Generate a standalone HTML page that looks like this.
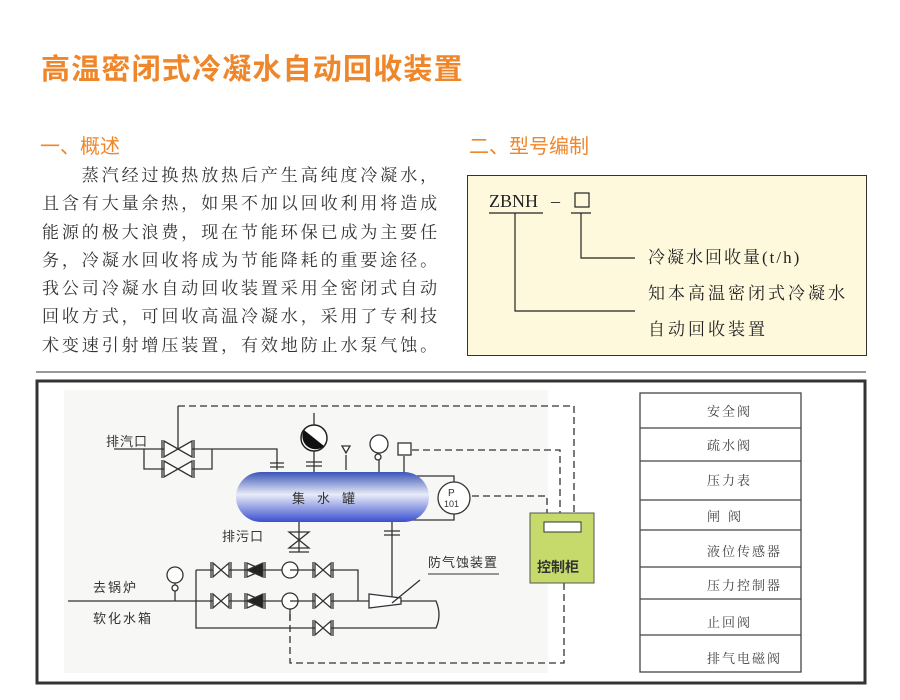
<!DOCTYPE html>
<html><head><meta charset="utf-8"><style>
body{margin:0;width:900px;height:700px;background:#fff;position:relative;overflow:hidden;font-family:"Liberation Serif","Noto Serif CJK SC","Noto Sans CJK SC",serif;}
.a{position:absolute;white-space:nowrap;}
.or{color:#f0862a;font-family:"Liberation Sans","Noto Sans CJK SC",sans-serif;font-weight:bold;}
.body{left:42px;top:160px;font-size:17px;line-height:28.3px;letter-spacing:2.9px;color:#333;font-family:"Noto Serif CJK SC",serif;}
</style></head><body>
<div class="a or" style="left:41px;top:46px;font-size:29px;letter-spacing:1.2px;">高温密闭式冷凝水自动回收装置</div>
<div class="a or" style="left:40px;top:130px;font-size:20px;font-weight:normal;">一、概述</div>
<div class="a or" style="left:469px;top:130px;font-size:20px;font-weight:normal;">二、型号编制</div>
<div class="a body">　　蒸汽经过换热放热后产生高纯度冷凝水，<br>且含有大量余热，如果不加以回收利用将造成<br>能源的极大浪费，现在节能环保已成为主要任<br>务，冷凝水回收将成为节能降耗的重要途径。<br>我公司冷凝水自动回收装置采用全密闭式自动<br>回收方式，可回收高温冷凝水，采用了专利技<br>术变速引射增压装置，有效地防止水泵气蚀。</div>
<div class="a" style="left:467px;top:175px;width:398px;height:179px;border:1px solid #333;background:#fef9dc;"></div>
<svg class="a" style="left:0;top:0" width="900" height="700">
<g font-family="Liberation Serif,Noto Serif CJK SC,serif" fill="#222">
<text x="489" y="207" font-size="18">ZBNH</text>
<text x="551" y="207" font-size="18">–</text>
<rect x="575" y="193" width="14" height="14" fill="none" stroke="#222" stroke-width="1.2"/>
<path d="M489 213H543M571 213H591M581 213V258H635M515 213V311H635" stroke="#222" stroke-width="1.2" fill="none"/>
<text x="648" y="263" font-size="17" letter-spacing="2">冷凝水回收量(t/h)</text>
<text x="648" y="299" font-size="17" letter-spacing="3">知本高温密闭式冷凝水</text>
<text x="648" y="335" font-size="17" letter-spacing="3">自动回收装置</text>
</g>
<line x1="36" y1="372" x2="866" y2="372" stroke="#333" stroke-width="1"/>
<rect x="37" y="381" width="828" height="302" fill="#fff" stroke="#333" stroke-width="3"/>
<rect x="64" y="390" width="484" height="283" fill="#f7f7f5"/>
<defs><linearGradient id="tk" x1="0" y1="0" x2="0" y2="1"><stop offset="0" stop-color="#3a55b8"/><stop offset="0.45" stop-color="#e8ecf8"/><stop offset="1" stop-color="#3a4fd0"/></linearGradient></defs>
<g stroke="#333" stroke-width="1.3" fill="none">
<g stroke-dasharray="7,4">
<path d="M178 406H574V513"/>
<path d="M412 450H560V513"/>
<path d="M472 496H547V513"/>
<path d="M564 583V663H290V603"/>
</g>
<path d="M178 406V449M114 449H277V470M144 449V469H212V449"/>
<path d="M164 441L192 457V441L164 457Z M164 461L192 477V461L164 477Z" fill="#fff"/>
<path d="M162 440V458M194 440V458M162 460V478M194 460V478"/>
<path d="M270 463H284M270 467H284"/>
<path d="M314 413V472M306 462H322M306 466H322"/>
<path d="M346 470V455M379 456V472M404 456V472"/>
<rect x="398" y="443" width="13" height="12" fill="#fff"/>
<circle cx="379" cy="444" r="9" fill="#fff"/>
<circle cx="378" cy="457" r="3" fill="#fff"/>
<path d="M346 453L342 446H350Z" fill="#fff"/>
<path d="M410 476H454V520H410"/>
<circle cx="454" cy="498" r="16" fill="#fff"/>
<path d="M299 522V552M289 532L309 548H289L309 532Z M289 552H309"/>
<path d="M392 522V598M384 531H400M384 535H400"/>
<path d="M68 601H369M196 570V628H436Q442 615 436 601H401M196 570H358V601"/>
<path d="M175 583V601"/>
<circle cx="175" cy="575" r="8" fill="#fff"/>
<circle cx="175" cy="588" r="3" fill="#fff"/>
<path d="M369 594L401 598V604L369 608Z" fill="#fff"/>
<path d="M392 603L420 580"/>
<path d="M428 574L499 574" stroke-width="1"/>
</g>
<g stroke="#333" stroke-width="1.3" fill="#fff">
<g id="row">
<path d="M213 563L229 577V563L213 577Z"/><path d="M211 562V578M231 562V578"/>
<path d="M247 563L263 570L247 577Z"/><path d="M263 563V577L247 570Z" fill="#222"/><path d="M245 562V578M265 562V578"/>
<circle cx="290" cy="570" r="8"/><path d="M290 570H298" />
<path d="M315 563L331 577V563L315 577Z"/><path d="M313 562V578M333 562V578"/>
</g>
<use href="#row" y="31"/>
<path d="M290 609V620"/>
<path d="M315 621L331 635V621L315 635Z"/><path d="M313 620V636M333 620V636"/>
</g>
<rect x="236" y="472" width="193" height="50" rx="25" fill="url(#tk)"/>
<circle cx="314" cy="438" r="13" fill="#fff" stroke="#222" stroke-width="1.5"/>
<path d="M304 430A13 13 0 0 0 324 446Z" fill="#111"/>
<rect x="530" y="513" width="64" height="70" fill="#c5da6a" stroke="#555"/>
<rect x="544" y="522" width="37" height="10" fill="#fff" stroke="#333"/>
<g font-family="Liberation Sans,Noto Sans CJK SC,sans-serif" fill="#333" font-size="13">
<text x="292" y="503" font-size="13" letter-spacing="12">集水罐</text>
<text x="448" y="496" font-size="10">P</text><text x="444" y="507" font-size="9">101</text>
<text x="537" y="572" font-size="14" font-weight="bold">控制柜</text>
<text x="106" y="446" letter-spacing="1">排汽口</text>
<text x="222" y="541" letter-spacing="1">排污口</text>
<text x="93" y="592" letter-spacing="2">去锅炉</text>
<text x="93" y="623" letter-spacing="2">软化水箱</text>
<text x="428" y="567" letter-spacing="1">防气蚀装置</text>
</g>
<g stroke="#444" stroke-width="1.3" fill="none">
<rect x="640" y="393" width="161" height="279"/>
<path d="M640 428H801M640 461H801M640 500H801M640 530H801M640 567H801M640 599H801M640 635H801"/>
</g>
<g font-family="Noto Serif CJK SC,serif" fill="#444" font-size="13" letter-spacing="2">
<text x="707" y="416">安全阀</text>
<text x="707" y="450">疏水阀</text>
<text x="707" y="485">压力表</text>
<text x="707" y="521" letter-spacing="8">闸阀</text>
<text x="707" y="556">液位传感器</text>
<text x="707" y="590">压力控制器</text>
<text x="707" y="627">止回阀</text>
<text x="707" y="663">排气电磁阀</text>
</g>
</svg>
</body></html>
